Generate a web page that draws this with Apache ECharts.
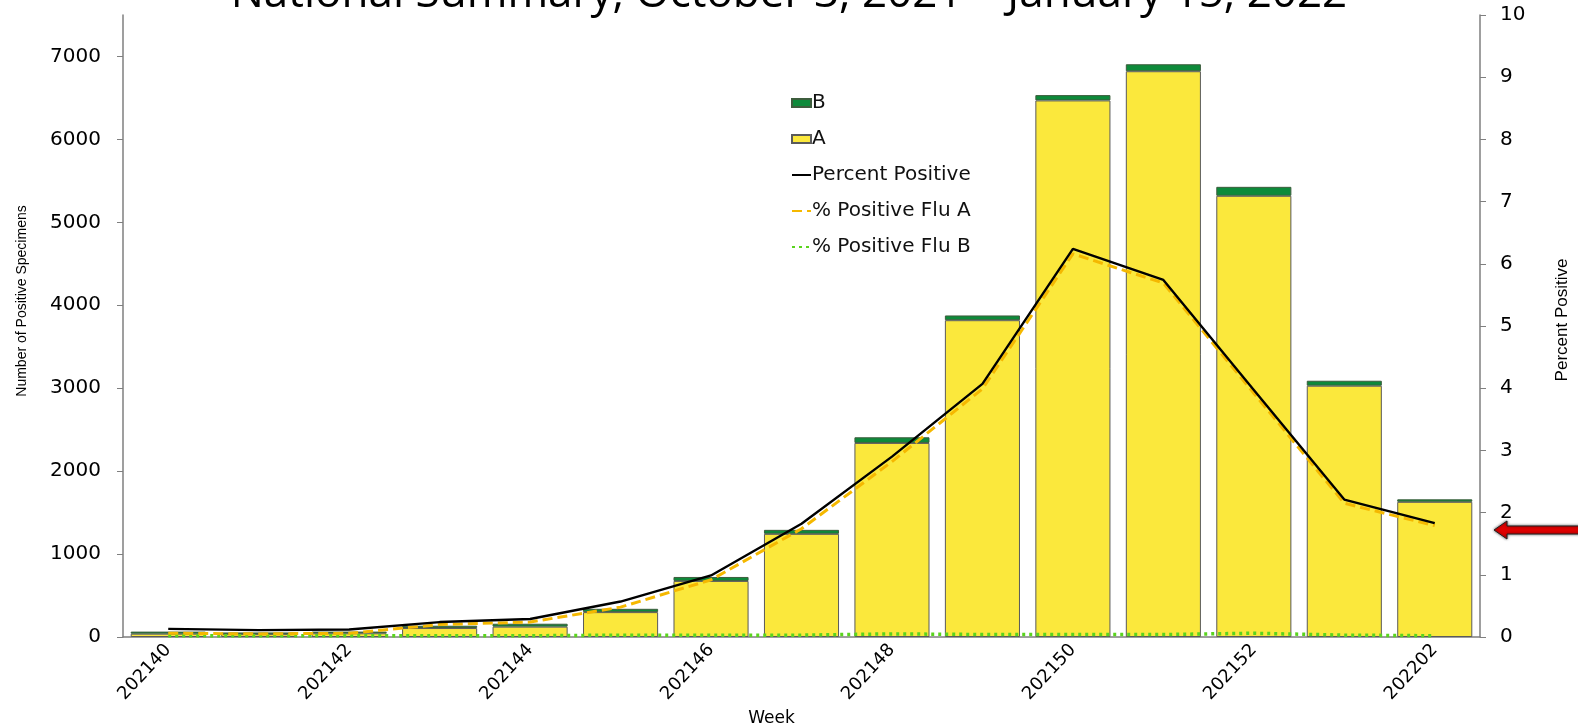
<!DOCTYPE html>
<html>
<head>
<meta charset="utf-8">
<style>
  html, body { margin: 0; padding: 0; background: #fff; }
  #chart-container { width: 1578px; height: 724px; }
</style>
<script src="https://cdn.jsdelivr.net/npm/echarts@6/dist/echarts.min.js"></script>
</head>
<body>
<div id="chart-container"></div>
<script>
var weeks = ['202140', '202141', '202142', '202143', '202144', '202145', '202146', '202147',
  '202148', '202149', '202150', '202151', '202152', '202201', '202202'];

// positive specimens
var fluA = [40, 35, 45, 108, 125, 300, 676, 1244, 2340, 3820, 6470, 6822, 5320, 3030, 1630];
var fluB = [25, 20, 20, 28, 35, 40, 48, 48, 68, 57, 64, 84, 108, 60, 30];

// percent positive
var pctAll = [0.13, 0.11, 0.12, 0.24, 0.29, 0.57, 0.99, 1.82, 2.90, 4.07, 6.24, 5.74, 3.97, 2.21, 1.83];
var pctA = [0.06, 0.05, 0.06, 0.20, 0.24, 0.48, 0.92, 1.74, 2.82, 3.99, 6.16, 5.69, 3.92, 2.15, 1.79];
var pctB = [0.02, 0.02, 0.02, 0.02, 0.02, 0.03, 0.03, 0.03, 0.05, 0.04, 0.04, 0.04, 0.06, 0.03, 0.02];

var dom = document.getElementById("chart-container");
var myChart = echarts.init(dom, null, {
  renderer: "canvas",
  useDirtyRect: false
});

var font = "'Liberation Sans', Arial, sans-serif";
var wide = "'DejaVu Sans', sans-serif";
var axisGrey = '#7f7f7f';

function plain(v) {
  return String(v);
}

var option = {
  animation: false,
  textStyle: { fontFamily: font },
  title: {
    text: 'National Summary, October 3, 2021 \u2013 January 15, 2022',
    left: 'center',
    top: -33,
    textStyle: {
      fontFamily: "'Open Sans', sans-serif",
      fontWeight: 'normal',
      fontSize: 44,
      color: '#000'
    }
  },
  legend: {
    orient: 'vertical',
    left: 786,
    top: 88,
    itemGap: 16,
    itemWidth: 19,
    itemHeight: 8,
    textStyle: { fontFamily: wide, fontSize: 20, color: '#111', padding: [0, 0, 0, -4] },
    data: [
      { name: 'B', icon: 'rect' },
      { name: 'A', icon: 'rect' },
      { name: 'Percent Positive', itemStyle: { opacity: 0 } },
      { name: '% Positive Flu A', itemStyle: { opacity: 0 } },
      { name: '% Positive Flu B', itemStyle: { opacity: 0 } }
    ]
  },
  grid: {
    left: 123,
    right: 98,
    top: 15,
    bottom: 87,
    outerBoundsMode: 'none'
  },
  xAxis: {
    type: 'category',
    data: weeks,
    name: 'Week',
    nameLocation: 'middle',
    nameGap: 68,
    nameTextStyle: { fontFamily: wide, fontSize: 17, color: '#000', padding: [0, 60, 0, 0] },
    axisLine: { lineStyle: { color: axisGrey, width: 1.5 } },
    axisTick: { interval: 0, length: 6, lineStyle: { color: axisGrey } },
    axisLabel: {
      interval: 1,
      rotate: 47,
      fontFamily: wide,
      fontSize: 18,
      color: '#000',
      margin: 10
    }
  },
  yAxis: [
    {
      type: 'value',
      min: 0,
      max: 7500,
      interval: 1000,
      name: 'Number of Positive Specimens',
      nameLocation: 'middle',
      nameRotate: 90,
      nameGap: 94,
      nameTextStyle: { fontSize: 14, color: '#000', padding: [0, 0, 0, 50] },
      axisLine: { show: true, lineStyle: { color: axisGrey, width: 1.5 } },
      axisTick: { show: true, length: 6, lineStyle: { color: axisGrey } },
      axisLabel: {
        fontFamily: wide, fontSize: 20, color: '#000', margin: 22,
        showMaxLabel: false, formatter: plain
      },
      splitLine: { show: false }
    },
    {
      type: 'value',
      min: 0,
      max: 10,
      interval: 1,
      name: 'Percent Positive',
      nameLocation: 'middle',
      nameRotate: 90,
      nameGap: 74,
      nameTextStyle: { fontSize: 17, color: '#000', padding: [0, 0, 0, 12] },
      axisLine: { show: true, lineStyle: { color: axisGrey, width: 1.5 } },
      axisTick: { show: true, length: 6, lineStyle: { color: axisGrey } },
      axisLabel: { fontFamily: wide, fontSize: 20, color: '#000', margin: 20, formatter: plain },
      splitLine: { show: false }
    }
  ],
  series: [
    {
      name: 'A',
      type: 'bar',
      stack: 'flu',
      data: fluA,
      barCategoryGap: '17%',
      itemStyle: { color: '#fbe83c', borderColor: '#5a5a5a', borderWidth: 1 },
      z: 2
    },
    {
      name: 'B',
      type: 'bar',
      stack: 'flu',
      data: fluB,
      itemStyle: { color: '#0d8a3a', borderColor: '#3d5d3d', borderWidth: 1 },
      z: 2
    },
    {
      name: '% Positive Flu B',
      type: 'line',
      yAxisIndex: 1,
      data: pctB,
      symbol: 'none',
      lineStyle: { color: '#5ad41e', width: 3.5, type: [3, 4] },
      itemStyle: { color: '#5ad41e' },
      z: 3
    },
    {
      name: '% Positive Flu A',
      type: 'line',
      yAxisIndex: 1,
      data: pctA,
      symbol: 'none',
      lineStyle: { color: '#f5b800', width: 3, type: [10, 5] },
      itemStyle: { color: '#f5b800' },
      z: 4
    },
    {
      name: 'Percent Positive',
      type: 'line',
      yAxisIndex: 1,
      data: pctAll,
      symbol: 'none',
      lineStyle: { color: '#000', width: 2.4 },
      itemStyle: { color: '#000' },
      z: 5
    }
  ],
  graphic: [
    {
      type: 'polygon',
      shape: {
        points: [[1494, 530], [1507, 521], [1507, 526], [1580, 526], [1580, 534], [1507, 534], [1507, 539]]
      },
      style: {
        fill: '#e00000',
        stroke: '#222',
        lineWidth: 1,
        shadowBlur: 3,
        shadowColor: 'rgba(0,0,0,0.6)'
      },
      z: 10
    }
  ]
};

if (option && typeof option === "object") {
  myChart.setOption(option);
}

window.addEventListener("resize", myChart.resize);
</script>
</body>
</html>
